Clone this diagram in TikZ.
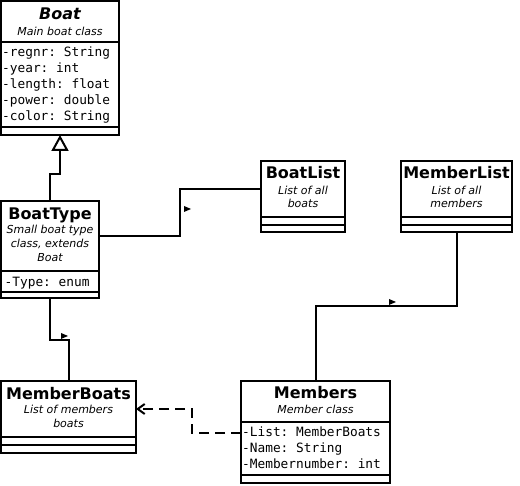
\documentclass[tikz,border=0pt]{standalone}
\usepackage{fontspec}
\setmainfont{DejaVu Sans}
\setmonofont{DejaVu Sans Mono}
\usetikzlibrary{arrows.meta}
\begin{document}
\begin{tikzpicture}[x=1pt,y=-1pt,
  cls/.style={draw, line width=2pt, inner sep=0pt, outer sep=0pt},
  ttl/.style={anchor=base, inner sep=0pt, font=\fontsize{16}{16}\selectfont\bfseries},
  sub/.style={anchor=base, inner sep=0pt, font=\fontsize{11}{11}\selectfont\itshape},
  attr/.style={anchor=base west, inner sep=0pt, font=\fontsize{12.8}{12.8}\selectfont\ttfamily},
  sep/.style={line width=2pt},
  conn/.style={line width=2pt},
  navtip/.style={fill=black},
  inh/.style={conn, -{Triangle[open,length=16pt,width=17pt]}},
  dep/.style={conn, dash pattern=on 10pt off 6pt, -{Straight Barb[length=7pt,width=10pt]}}
]
\fill[white] (0,0) rectangle (520,486);
\useasboundingbox (0,0) rectangle (520,486);

% Boat
\node[cls, minimum width=118pt, minimum height=134pt] (boat) at (60,68) {};
\draw[sep] (boat.west |- 0,42) -- (boat.east |- 0,42);
\draw[sep] (boat.west |- 0,127) -- (boat.east |- 0,127);
\node[ttl, font=\fontsize{16}{16}\selectfont\bfseries\itshape] (boatT) at (60,20) {Boat};
\node[sub] (boatS) at (60,36) {Main boat class};
\node[attr] (boatA1) at (2,57) {-regnr: String};
\node[attr] (boatA2) at (2,73) {-year: int};
\node[attr] (boatA3) at (2,89) {-length: float};
\node[attr] (boatA4) at (2,105) {-power: double};
\node[attr] (boatA5) at (2,121) {-color: String};

% BoatType
\node[cls, minimum width=98pt, minimum height=97pt] (btype) at (50,249.5) {};
\draw[sep] (btype.west |- 0,271) -- (btype.east |- 0,271);
\draw[sep] (btype.west |- 0,292) -- (btype.east |- 0,292);
\node[ttl] (btypeT) at (50,220) {BoatType};
\node[sub] (btypeS1) at (50,234) {Small boat type};
\node[sub] (btypeS2) at (50,248) {class, extends};
\node[sub] (btypeS3) at (50,262) {Boat};
\begin{scope}
\clip (2,272) rectangle (88,291);
\node[attr] (btypeA1) at (4.5,287) {-Type: enum};
\end{scope}

% BoatList
\node[cls, minimum width=84pt, minimum height=71pt] (blist) at (303,196.5) {};
\draw[sep] (blist.west |- 0,217) -- (blist.east |- 0,217);
\draw[sep] (blist.west |- 0,225) -- (blist.east |- 0,225);
\node[ttl] (blistT) at (303,179) {BoatList};
\node[sub] (blistS1) at (303,195) {List of all};
\node[sub] (blistS2) at (303,208) {boats};

% MemberList
\node[cls, minimum width=111pt, minimum height=71pt] (mlist) at (456.5,196.5) {};
\draw[sep] (mlist.west |- 0,217) -- (mlist.east |- 0,217);
\draw[sep] (mlist.west |- 0,225) -- (mlist.east |- 0,225);
\node[ttl] (mlistT) at (456.5,179) {MemberList};
\node[sub] (mlistS1) at (456.5,195) {List of all};
\node[sub] (mlistS2) at (456.5,208) {members};

% MemberBoats
\node[cls, minimum width=135pt, minimum height=72pt] (mboats) at (68.5,417) {};
\draw[sep] (mboats.west |- 0,437) -- (mboats.east |- 0,437);
\draw[sep] (mboats.west |- 0,445) -- (mboats.east |- 0,445);
\node[ttl] (mboatsT) at (68.5,400) {MemberBoats};
\node[sub] (mboatsS1) at (68.5,414) {List of members};
\node[sub] (mboatsS2) at (68.5,428) {boats};

% Members
\node[cls, minimum width=149pt, minimum height=102pt] (members) at (315.5,432) {};
\draw[sep] (members.west |- 0,422) -- (members.east |- 0,422);
\draw[sep] (members.west |- 0,475) -- (members.east |- 0,475);
\node[ttl] (membersT) at (315.5,399) {Members};
\node[sub] (membersS) at (315.5,414) {Member class};
\node[attr] (membersA1) at (242,437) {-List: MemberBoats};
\node[attr] (membersA2) at (242,453) {-Name: String};
\node[attr] (membersA3) at (242,468) {-Membernumber: int};

% Connectors
\draw[inh] (btype.north) -- ++(0,-27) -| (boat.south);
\draw[conn] (btype.east |- 0,236) -- (180,236) -- (180,189) -- (blist.west |- 0,189);
\draw[conn] (mlist.south) -- ++(0,74) -| (members.north);
\draw[conn] (btype.south) -- ++(0,42) -| (mboats.north);
\draw[dep] (members.west |- 0,433) -- (192,433) -- (192,409) -- (mboats.east |- 0,409);

% navigation markers
\fill[navtip] (184,206) -- (184,212) -- (191,209) -- cycle;
\fill[navtip] (389,299) -- (389,305) -- (396,302) -- cycle;
\fill[navtip] (61,333) -- (61,339) -- (68,336) -- cycle;
\end{tikzpicture}
\end{document}
